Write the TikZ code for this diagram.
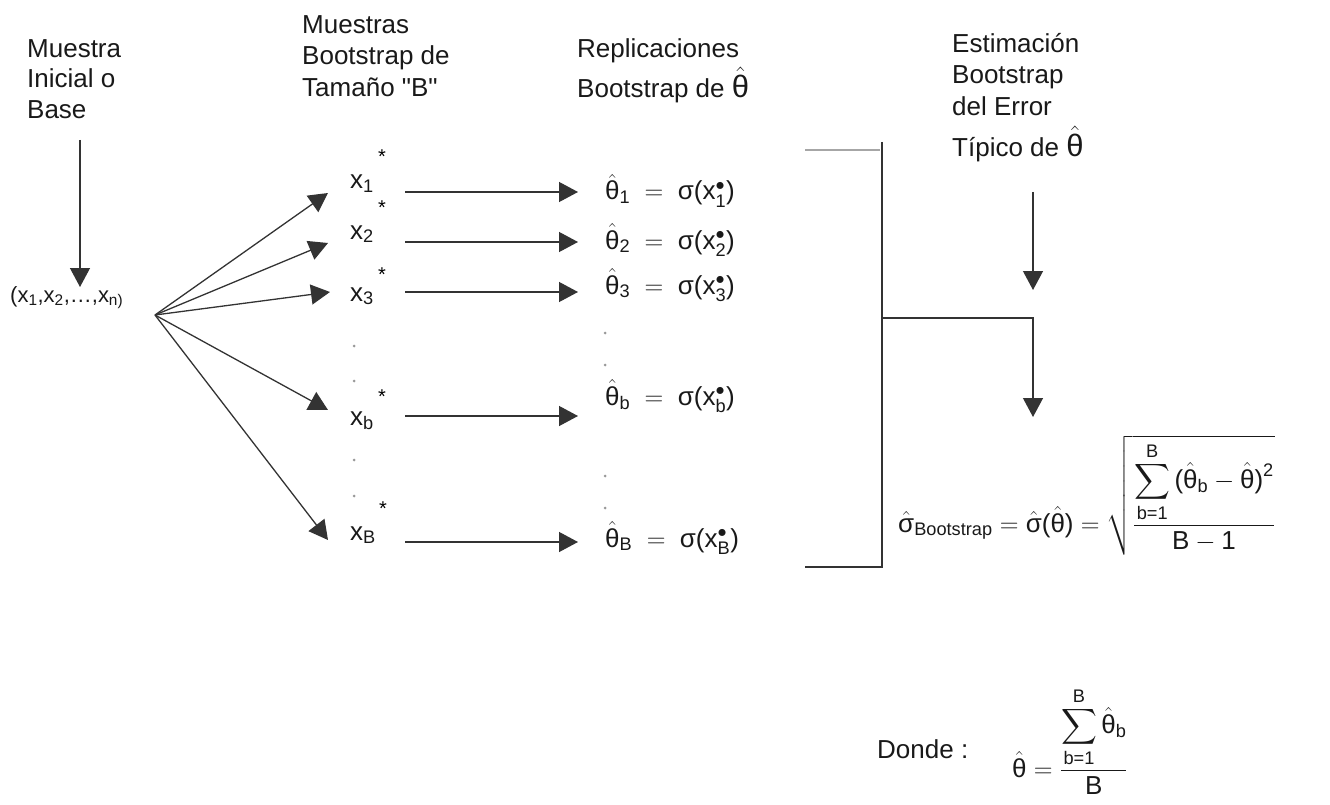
\RequirePackage{fix-cm}
\documentclass[tikz,border=0pt]{standalone}
\usepackage{amsmath}
\usepackage{fontspec}
\setmainfont{Liberation Sans}[Ligatures=TeXOff]
\usetikzlibrary{arrows.meta}
\newcommand{\thh}{\hat{\text{θ}}}
\newcommand{\sgh}{\hat{\text{σ}}}
\newcommand{\lp}{\text{(}}
\newcommand{\rp}{\text{)}}
\begin{document}
\begin{tikzpicture}[x=1pt,y=-1pt,
  lbl/.style={anchor=base west, inner sep=0pt, font=\fontsize{26}{31}\selectfont, text=black!90},
  small/.style={anchor=base west, inner sep=0pt, font=\fontsize{22}{26}\selectfont, text=black!90},
  starlbl/.style={anchor=north, inner sep=0pt, font=\fontsize{20}{20}\selectfont, text=black},
  arr/.style={draw=black!80, line width=1.3pt, -{Triangle[length=19pt,width=20pt]}},
  ln/.style={draw=black!80, line width=1.3pt},
  dotg/.style={circle, fill=black!40, inner sep=0pt, minimum size=3pt}]
\useasboundingbox (0,0) rectangle (1330,805);

% headers
\node[lbl] (h1a) at (27,58) {Muestra};
\node[lbl] (h1b) at (27,88) {Inicial o};
\node[lbl] (h1c) at (27,119) {Base};
\node[lbl] (h2a) at (302,34) {Muestras};
\node[lbl] (h2b) at (302,65) {Bootstrap de};
\node[lbl] (h2c) at (302,97) {Tamaño "B"};
\node[lbl] (h3a) at (577,58) {Replicaciones};
\node[lbl] (h3b) at (577,98) {Bootstrap de {\fontsize{31}{31}\selectfont$\thh$}};
\node[lbl] (h4a) at (952,53) {Estimación};
\node[lbl] (h4b) at (952,84) {Bootstrap};
\node[lbl] (h4c) at (952,116) {del Error};
\node[lbl] (h4d) at (952,157) {Típico de {\fontsize{31}{31}\selectfont$\thh$}};

% initial sample
\node[small] (base) at (10,302) {(x\textsubscript{1},x\textsubscript{2},…,x\textsubscript{n)}};
\coordinate (a0) at (80,140);
\coordinate (a1) at (80,287);
\draw[arr] (a0) -- (a1);

% fan
\coordinate (src) at (155,315);
\coordinate (f1) at (328,193);
\coordinate (f2) at (328,243);
\coordinate (f3) at (330,292);
\coordinate (fb) at (328,410);
\coordinate (fB) at (328,540);
\foreach \t in {f1,f2,f3,fb,fB} \draw[arr] (src) -- (\t);

% bootstrap samples
\node[lbl] (x1) at (350,189) {x\textsubscript{1}};
\node[lbl] (x2) at (350,239) {x\textsubscript{2}};
\node[lbl] (x3) at (350,301) {x\textsubscript{3}};
\node[lbl] (xb) at (350,425) {x\textsubscript{b}};
\node[lbl] (xB) at (350,540) {x\textsubscript{B}};
\node[starlbl] (s1) at (382,150) {*};
\node[starlbl] (s2) at (382,201) {*};
\node[starlbl] (s3) at (382,268) {*};
\node[starlbl] (sb) at (382,390) {*};
\node[starlbl] (sB) at (383,502) {*};
\node[dotg] (d1) at (354,346) {};
\node[dotg] (d2) at (354,381) {};
\node[dotg] (d3) at (354,460) {};
\node[dotg] (d4) at (354,496) {};

% horizontal arrows
\coordinate (p1) at (405,192); \coordinate (q1) at (578,192);
\coordinate (p2) at (405,242); \coordinate (q2) at (578,242);
\coordinate (p3) at (405,292); \coordinate (q3) at (578,292);
\coordinate (pb) at (405,416); \coordinate (qb) at (578,416);
\coordinate (pB) at (405,542); \coordinate (qB) at (578,542);
\draw[arr] (p1) -- (q1);
\draw[arr] (p2) -- (q2);
\draw[arr] (p3) -- (q3);
\draw[arr] (pb) -- (qb);
\draw[arr] (pB) -- (qB);

% replications
\node[lbl] (t1) at (605,200) {$\thh_{\text{1}} \;=\; \text{σ}\lp\text{x}^{\bullet}_{\text{1}}\rp$};
\node[lbl] (t2) at (605,249) {$\thh_{\text{2}} \;=\; \text{σ}\lp\text{x}^{\bullet}_{\text{2}}\rp$};
\node[lbl] (t3) at (605,294) {$\thh_{\text{3}} \;=\; \text{σ}\lp\text{x}^{\bullet}_{\text{3}}\rp$};
\node[lbl] (tb) at (605,405) {$\thh_{\text{b}} \;=\; \text{σ}\lp\text{x}^{\bullet}_{\text{b}}\rp$};
\node[lbl] (tB) at (605,547) {$\thh_{\text{B}} \;=\; \text{σ}\lp\text{x}^{\bullet}_{\text{B}}\rp$};
\node[dotg] (e1) at (605,333) {};
\node[dotg] (e2) at (605,365) {};
\node[dotg] (e3) at (605,476) {};
\node[dotg] (e4) at (605,508) {};

% bracket
\coordinate (k0) at (805,150); \coordinate (k1) at (880,150);
\coordinate (k2) at (882,142); \coordinate (k3) at (882,567); \coordinate (k4) at (805,567);
\coordinate (k5) at (882,318); \coordinate (k6) at (1033,417);
\draw[ln, draw=black!35] (k0) -- (k1);
\draw[ln] (k2) -- (k3) -- (k4);
\draw[arr] (k5) -| (k6);
\coordinate (r0) at (1033,192); \coordinate (r1) at (1033,290);
\draw[arr] (r0) -- (r1);

% formula
\node[lbl] (sig) at (898,532) {$\sgh_{\text{Bootstrap}} = \sgh\lp\thh\rp = \sqrt{\dfrac{\displaystyle\sum_{\text{b=1}}^{\text{B}}\lp\thh_{\text{b}} - \thh\rp^{\text{2}}}{\text{B} - \text{1}}}$};

% donde
\node[lbl] (donde) at (877,758) {Donde :};
\node[lbl] (mean) at (1012,777) {$\thh = \dfrac{\displaystyle\sum_{\text{b=1}}^{\text{B}}\thh_{\text{b}}}{\text{B}}$};
\end{tikzpicture}
\end{document}
